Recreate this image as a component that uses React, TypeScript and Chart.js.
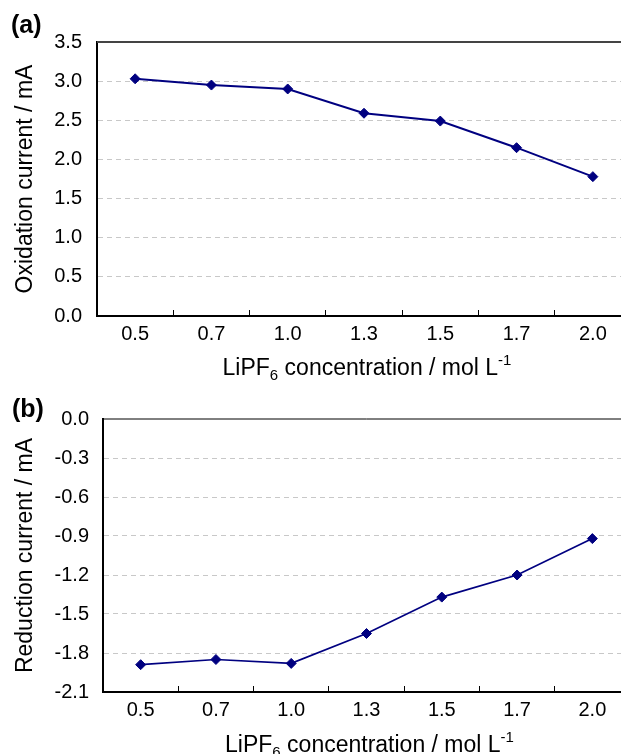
import React, { useEffect, useRef } from "react";
import { Chart, registerables } from "chart.js";

Chart.register(...registerables);

// ---- data ----
const categories = ["0.5", "0.7", "1.0", "1.3", "1.5", "1.7", "2.0"];
const oxidationCurrent = [3.03, 2.95, 2.9, 2.59, 2.49, 2.15, 1.78];
const reductionCurrent = [-1.89, -1.85, -1.88, -1.65, -1.37, -1.2, -0.92];
const oxidationRange = [0, 3.5];
const oxidationStep = 0.5;
const reductionRange = [-2.1, 0];
const reductionStep = 0.3;
const xTitleParts = [
  { text: "LiPF", kind: "main" },
  { text: "6", kind: "sub" },
  { text: " concentration / mol L", kind: "main" },
  { text: "-1", kind: "sup" },
];

const FONT = '"Liberation Sans", Arial, Helvetica, sans-serif';
const NAVY = "#000080";

const decorPlugin = {
  id: "decor",
  beforeDatasetsDraw(chart: any, _args: any, opts: any) {
    const { ctx, chartArea } = chart;
    ctx.save();
    ctx.strokeStyle = opts.topColor;
    ctx.lineWidth = opts.topWidth;
    ctx.beginPath();
    ctx.moveTo(chartArea.left, chartArea.top);
    ctx.lineTo(chartArea.right, chartArea.top);
    ctx.stroke();
    ctx.restore();
  },
  afterDraw(chart: any, _args: any, opts: any) {
    const { ctx, chartArea } = chart;
    ctx.save();
    ctx.fillStyle = "#000";
    ctx.textAlign = "left";
    ctx.textBaseline = "alphabetic";
    ctx.font = `bold 25px ${FONT}`;
    ctx.fillText(opts.label, opts.labelX, opts.labelY);

    const fontFor = (kind: string) =>
      kind === "main" ? `23px ${FONT}` : `15px ${FONT}`;
    const dyFor = (kind: string) =>
      kind === "sub" ? 5 : kind === "sup" ? -10 : 0;
    let total = 0;
    const widths = xTitleParts.map((p) => {
      ctx.font = fontFor(p.kind);
      const w = ctx.measureText(p.text).width;
      total += w;
      return w;
    });
    let x = (chartArea.left + chartArea.right) / 2 + opts.titleShift - total / 2;
    xTitleParts.forEach((p, i) => {
      ctx.font = fontFor(p.kind);
      ctx.fillText(p.text, x, opts.titleBaseline + dyFor(p.kind));
      x += widths[i];
    });
    ctx.restore();
  },
};

type PanelProps = {
  values: number[];
  range: number[];
  step: number;
  yTitle: string;
  label: string;
  labelX: number;
  labelY: number;
  top: number;
  height: number;
  padTop: number;
  padRight: number;
  yAxisWidth: number;
  xAxisHeight: number;
  yLabelPad: number;
  topColor: string;
  topWidth: number;
  lineWidth: number;
  pointRadius: number;
  titleBaseline: number;
};

function Panel(p: PanelProps) {
  const ref = useRef<HTMLCanvasElement | null>(null);
  useEffect(() => {
    if (!ref.current) return;
    const n = Math.round((p.range[1] - p.range[0]) / p.step);
    const chart = new Chart(ref.current, {
      type: "line",
      data: {
        labels: categories,
        datasets: [
          {
            data: p.values,
            borderColor: NAVY,
            backgroundColor: NAVY,
            borderWidth: p.lineWidth,
            pointStyle: "rectRot",
            pointRadius: p.pointRadius,
            pointBorderWidth: 1,
            pointBackgroundColor: NAVY,
            pointBorderColor: NAVY,
            tension: 0,
            fill: false,
          },
        ],
      },
      options: {
        responsive: false,
        animation: false,
        devicePixelRatio: 1,
        layout: { padding: { top: p.padTop, right: p.padRight, left: 0, bottom: 0 } },
        plugins: {
          legend: { display: false },
          tooltip: { enabled: false },
          title: { display: false },
          decor: {
            label: p.label,
            labelX: p.labelX,
            labelY: p.labelY,
            topColor: p.topColor,
            topWidth: p.topWidth,
            titleBaseline: p.titleBaseline,
            titleShift: 3,
          },
        } as any,
        scales: {
          x: {
            type: "category",
            offset: true,
            grid: {
              offset: true,
              drawOnChartArea: false,
              drawTicks: true,
              tickLength: -6,
              color: "#000",
              lineWidth: 1,
            },
            border: { display: true, color: "#000", width: 2 },
            ticks: {
              color: "#000",
              font: { family: FONT, size: 20 },
              padding: 12,
              maxRotation: 0,
              autoSkip: false,
            },
            afterFit: (s: any) => {
              s.height = p.xAxisHeight;
            },
          },
          y: {
            type: "linear",
            min: p.range[0],
            max: p.range[1],
            ticks: {
              stepSize: p.step,
              color: "#000",
              font: { family: FONT, size: 20 },
              padding: p.yLabelPad,
              callback: (v: any) => {
                const num = Math.abs(Number(v)) < 1e-9 ? 0 : Number(v);
                return num.toFixed(1);
              },
            },
            grid: {
              drawTicks: false,
              lineWidth: 1,
              color: (c: any) =>
                c.index === 0 || c.index === n ? "rgba(0,0,0,0)" : "#c8c8c8",
            },
            border: { display: true, color: "#000", width: 2, dash: [5, 4] },
            title: {
              display: true,
              text: p.yTitle,
              color: "#000",
              font: { family: FONT, size: 23 },
              padding: { top: 12, bottom: 0 },
            },
            afterFit: (s: any) => {
              s.width = p.yAxisWidth;
            },
          },
        },
      },
      plugins: [decorPlugin],
    });
    return () => chart.destroy();
  }, []);
  return (
    <canvas
      ref={ref}
      width={660}
      height={p.height}
      style={{ position: "absolute", left: 0, top: p.top, display: "block" }}
    />
  );
}

export default function App() {
  return (
    <div
      style={{
        position: "absolute",
        left: 0,
        top: 0,
        width: 621,
        height: 754,
        overflow: "hidden",
        background: "#fff",
      }}
    >
      <Panel
        values={oxidationCurrent}
        range={oxidationRange}
        step={oxidationStep}
        yTitle="Oxidation current / mA"
        label="(a)"
        labelX={11}
        labelY={33}
        top={0}
        height={400}
        padTop={42}
        padRight={29}
        yAxisWidth={97}
        xAxisHeight={84}
        yLabelPad={15}
        topColor="#444"
        topWidth={2}
        lineWidth={2}
        pointRadius={5}
        titleBaseline={375}
      />
      <Panel
        values={reductionCurrent}
        range={reductionRange}
        step={reductionStep}
        yTitle="Reduction current / mA"
        label="(b)"
        labelX={12}
        labelY={40}
        top={377}
        height={377}
        padTop={42}
        padRight={30}
        yAxisWidth={103}
        xAxisHeight={62}
        yLabelPad={14}
        topColor="#000"
        topWidth={1}
        lineWidth={1.7}
        pointRadius={5}
        titleBaseline={375}
      />
    </div>
  );
}
